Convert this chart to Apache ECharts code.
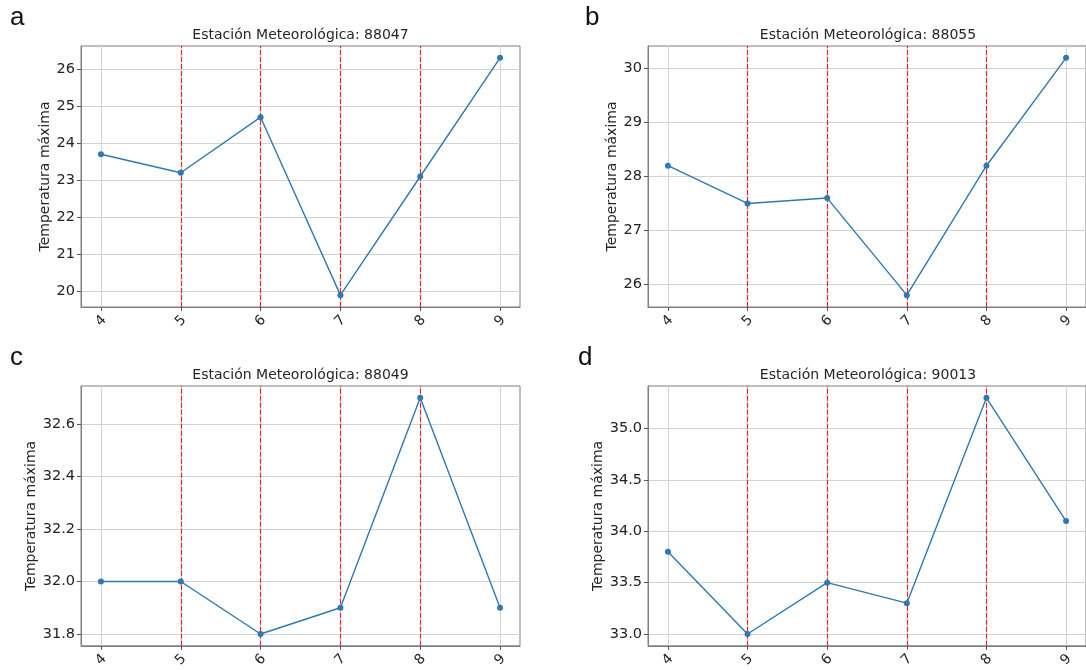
<!DOCTYPE html>
<html>
<head>
<meta charset="utf-8">
<script src="https://cdn.jsdelivr.net/npm/echarts@6/dist/echarts.min.js"></script>
<style>
html,body{margin:0;padding:0;background:#fff;}
#chart{width:1086px;height:670px;}
</style>
</head>
<body>
<div id="chart"></div>
<script>
// ---- data ----
const months = [4, 5, 6, 7, 8, 9];
const markerMonths = [5, 6, 7, 8];
const stations = ['88047', '88055', '88049', '90013'];
const panelLetters = ['a', 'b', 'c', 'd'];
const tempA = [23.7, 23.2, 24.7, 19.9, 23.1, 26.3];
const tempB = [28.2, 27.5, 27.6, 25.8, 28.2, 30.2];
const tempC = [32.0, 32.0, 31.8, 31.9, 32.7, 31.9];
const tempD = [33.8, 33.0, 33.5, 33.3, 35.3, 34.1];
const yTicksA = [20, 21, 22, 23, 24, 25, 26];
const yTicksB = [26, 27, 28, 29, 30];
const yTicksC = [31.8, 32.0, 32.2, 32.4, 32.6];
const yTicksD = [33.0, 33.5, 34.0, 34.5, 35.0];
const yDecimals = [0, 0, 1, 1];
const yAxisName = 'Temperatura máxima';
const titlePrefix = 'Estación Meteorológica: ';

const series = [tempA, tempB, tempC, tempD];
const yTicks = [yTicksA, yTicksB, yTicksC, yTicksD];

// ---- layout ----
const grids = [
  {left: 81, top: 46, width: 439, height: 261},
  {left: 648, top: 46, width: 440, height: 261},
  {left: 81, top: 386, width: 439, height: 262},
  {left: 648, top: 386, width: 440, height: 262}
];
const nameGaps = [27, 27, 41, 40];
const letterPos = [[10, 5], [585, 5], [10, 345], [578, 345]];

const frameColor = '#7f7f7f';
const gridColor = '#d3d3d3';
const lineColor = '#2f78b2';
const font = 'DejaVu Sans';

function pad(arr) {
  const mn = Math.min(...arr), mx = Math.max(...arr);
  const m = (mx - mn) * 0.05;
  return [mn - m, mx + m];
}

const option = {
  animation: false,
  backgroundColor: '#fff',
  title: [],
  grid: [],
  xAxis: [],
  yAxis: [],
  series: []
};

series.forEach((vals, i) => {
  const g = grids[i];
  option.grid.push(Object.assign({show: true, borderColor: frameColor, borderWidth: 1, backgroundColor: 'transparent'}, g));
  const xr = pad(months);
  const yr = pad(vals);
  option.xAxis.push({
    type: 'value', gridIndex: i, min: xr[0], max: xr[1],
    axisLine: {show: true, onZero: false, lineStyle: {color: frameColor, width: 1}},
    axisTick: {show: true, length: 4, customValues: months, lineStyle: {color: '#555'}},
    axisLabel: {
      customValues: months, rotate: 45, margin: 14, align: 'center', verticalAlign: 'middle',
      fontFamily: font, fontSize: 14, color: '#262626'
    },
    splitLine: {show: true, lineStyle: {color: gridColor, width: 1}}
  });
  option.yAxis.push({
    type: 'value', gridIndex: i, min: yr[0], max: yr[1],
    name: yAxisName, nameLocation: 'middle', nameRotate: 90, nameGap: nameGaps[i],
    nameTextStyle: {fontFamily: font, fontSize: 14, color: '#262626'},
    axisLine: {show: true, onZero: false, lineStyle: {color: frameColor, width: 1}},
    axisTick: {show: true, length: 4, customValues: yTicks[i], lineStyle: {color: '#555'}},
    axisLabel: {
      customValues: yTicks[i], margin: 6, fontFamily: font, fontSize: 14.5, color: '#222',
      formatter: (v) => Number(v).toFixed(yDecimals[i])
    },
    splitLine: {show: true, lineStyle: {color: gridColor, width: 1}}
  });
  option.title.push({
    text: titlePrefix + stations[i], padding: 0,
    left: g.left + g.width / 2, top: g.top - 18, textAlign: 'center',
    textStyle: {fontFamily: font, fontSize: 14, fontWeight: 'normal', color: '#262626', lineHeight: 14}
  });
  option.title.push({
    text: panelLetters[i], padding: 0, left: letterPos[i][0], top: letterPos[i][1],
    textStyle: {fontFamily: 'Liberation Sans', fontSize: 26, fontWeight: 'normal', color: '#111', lineHeight: 26}
  });
  option.series.push({
    type: 'line', xAxisIndex: i, yAxisIndex: i,
    data: months.map((m, k) => [m, vals[k]]),
    symbol: 'circle', symbolSize: 6, showSymbol: true,
    lineStyle: {color: lineColor, width: 1.4},
    itemStyle: {color: lineColor},
    z: 3,
    markLine: {
      silent: true, symbol: ['none', 'none'], label: {show: false},
      lineStyle: {color: '#e8242a', type: [5, 2], width: 1.2},
      data: markerMonths.map(m => ({xAxis: m})),
      z: 2
    }
  });
});

const chart = echarts.init(document.getElementById('chart'), null, {renderer: 'canvas'});
chart.setOption(option);
</script>
</body>
</html>
